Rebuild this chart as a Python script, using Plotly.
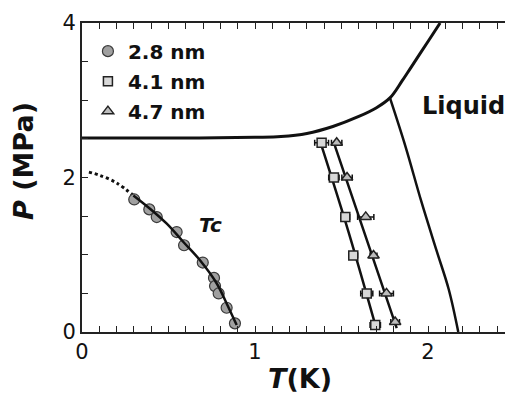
import plotly.graph_objects as go

# ---- data ----
# 2.8 nm (circles)
t_28 = [0.302, 0.389, 0.432, 0.547, 0.590, 0.698, 0.763, 0.769, 0.790, 0.836, 0.884]
p_28 = [1.716, 1.587, 1.488, 1.294, 1.123, 0.899, 0.700, 0.594, 0.499, 0.314, 0.112]

# 4.1 nm (squares)
t_41 = [1.385, 1.456, 1.522, 1.568, 1.646, 1.695]
p_41 = [2.45, 2.00, 1.49, 0.99, 0.50, 0.09]
e_41 = [0.040, 0.030, 0.025, 0.025, 0.035, 0.030]

# 4.7 nm (triangles)
t_47 = [1.472, 1.532, 1.640, 1.685, 1.760, 1.810]
p_47 = [2.45, 2.00, 1.49, 0.99, 0.50, 0.13]
e_47 = [0.030, 0.030, 0.047, 0.020, 0.040, 0.025]

# Tc curve (solid part through circles)
tc_t = [0.297, 0.393, 0.490, 0.586, 0.682, 0.779, 0.836, 0.894]
tc_p = [1.768, 1.596, 1.402, 1.165, 0.929, 0.628, 0.370, 0.090]
# Tc extrapolation (dotted)
tcx_t = [0.04, 0.10, 0.20, 0.297]
tcx_p = [2.07, 2.03, 1.93, 1.768]

# solid-liquid boundary (upper curve)
sl_t = [0.0, 0.5, 1.0, 1.15, 1.3, 1.45, 1.6, 1.7, 1.78, 1.85, 1.9, 2.0, 2.07]
sl_p = [2.51, 2.51, 2.52, 2.53, 2.57, 2.66, 2.79, 2.90, 3.03, 3.25, 3.42, 3.76, 4.0]

# steep line from the kink down to P = 0
lam_t = [1.78, 1.87, 1.96, 2.05, 2.12, 2.175]
lam_p = [3.03, 2.40, 1.70, 1.05, 0.55, 0.0]

# fit lines through squares and triangles
f41_t = [1.385, 1.540, 1.703]
f41_p = [2.41, 1.30, 0.03]
f47_t = [1.462, 1.630, 1.819]
f47_p = [2.41, 1.30, 0.05]

labels = ["2.8 nm", "4.1 nm", "4.7 nm"]

# ticks (every 0.1 K on T, every 0.5 MPa on P; labels only on a few)
x_tick_vals = [0.0, 0.1, 0.2, 0.3, 0.4, 0.5, 0.6, 0.7, 0.8, 0.9, 1.0, 1.1, 1.2,
               1.3, 1.4, 1.5, 1.6, 1.7, 1.8, 1.9, 2.0, 2.1, 2.2, 2.3, 2.4]
x_tick_text = ["0", "", "", "", "", "", "", "", "", "", "1", "", "",
               "", "", "", "", "", "", "", "2", "", "", "", ""]
y_tick_vals = [0.0, 0.5, 1.0, 1.5, 2.0, 2.5, 3.0, 3.5, 4.0]
y_tick_text = ["0", "", "", "", "2", "", "", "", "4"]

FONT = "'DejaVu Sans', Arial, sans-serif"
BLACK = "#111111"
AX = "#222222"

fig = go.Figure()

fig.add_trace(go.Scatter(x=sl_t, y=sl_p, mode="lines", line=dict(color=BLACK, width=3),
                         showlegend=False, hoverinfo="skip", line_shape="spline"))
fig.add_trace(go.Scatter(x=lam_t, y=lam_p, mode="lines", line=dict(color=BLACK, width=2.5),
                         showlegend=False, hoverinfo="skip", line_shape="spline"))
fig.add_trace(go.Scatter(x=tcx_t, y=tcx_p, mode="lines",
                         line=dict(color=BLACK, width=3, dash="dot"),
                         showlegend=False, hoverinfo="skip", line_shape="spline"))
fig.add_trace(go.Scatter(x=f41_t, y=f41_p, mode="lines", line=dict(color=BLACK, width=2.5),
                         showlegend=False, hoverinfo="skip", line_shape="spline"))
fig.add_trace(go.Scatter(x=f47_t, y=f47_p, mode="lines", line=dict(color=BLACK, width=2.5),
                         showlegend=False, hoverinfo="skip", line_shape="spline"))

fig.add_trace(go.Scatter(x=t_28, y=p_28, mode="markers", name="<b>%s</b>" % labels[0],
                         legendgroup="a",
                         marker=dict(symbol="circle", size=11, color="#a0a0a0",
                                     line=dict(color="#3a3a3a", width=1.2))))
fig.add_trace(go.Scatter(x=t_41, y=p_41, mode="markers", name="<b>%s</b>" % labels[1],
                         legendgroup="b",
                         marker=dict(symbol="square", size=9, color="#d8d8d8",
                                     line=dict(color="#222222", width=1.5)),
                         error_x=dict(type="data", array=e_41, color=BLACK,
                                      thickness=1.5, width=3)))
fig.add_trace(go.Scatter(x=t_47, y=p_47, mode="markers", name="<b>%s</b>" % labels[2],
                         legendgroup="c",
                         marker=dict(symbol="triangle-up", size=10, color="#bdbdbd",
                                     line=dict(color="#222222", width=1.5)),
                         error_x=dict(type="data", array=e_47, color=BLACK,
                                      thickness=1.5, width=3)))
fig.add_trace(go.Scatter(x=tc_t, y=tc_p, mode="lines", line=dict(color=BLACK, width=2.5),
                         showlegend=False, hoverinfo="skip", line_shape="spline"))

fig.add_annotation(x=0.74, y=1.38, text="<b><i>Tc</i></b>", showarrow=False,
                   font=dict(family=FONT, size=20, color=BLACK))
fig.add_annotation(x=1.955, y=2.92, text="<b>Liquid</b>", showarrow=False,
                   xanchor="left", yanchor="middle", font=dict(family=FONT, size=24, color=BLACK))

# axis titles as annotations for exact placement
fig.add_annotation(xref="paper", yref="paper", x=-0.137, y=0.356, xanchor="center",
                   yanchor="bottom", textangle=-90, showarrow=False,
                   text="<b><i>P</i> (MPa)</b>", font=dict(family=FONT, size=27, color=BLACK))
fig.add_annotation(xref="paper", yref="paper", x=0.5165, y=-0.152, xanchor="center",
                   yanchor="middle", showarrow=False,
                   text="<b><i>T</i>(K)</b>", font=dict(family=FONT, size=27, color=BLACK))

fig.update_xaxes(
    range=[0, 2.445], tickmode="array", tickvals=x_tick_vals, ticktext=x_tick_text,
    showline=True, linecolor=AX, linewidth=2, mirror="ticks",
    ticks="inside", ticklen=6, tickwidth=1, tickcolor=AX, layer="above traces",
    showgrid=False, zeroline=False, automargin=False,
    tickfont=dict(family=FONT, size=21, color=BLACK),
)
fig.update_yaxes(
    range=[0, 4], tickmode="array", tickvals=y_tick_vals, ticktext=y_tick_text,
    showline=True, linecolor=AX, linewidth=2,
    ticks="inside", ticklen=6, tickwidth=1, tickcolor=AX, layer="above traces",
    showgrid=False, zeroline=False, automargin=False,
    tickfont=dict(family=FONT, size=21, color=BLACK),
)

fig.update_layout(
    template="simple_white",
    width=506, height=394,
    margin=dict(l=82, r=1, t=23, b=62),
    paper_bgcolor="white", plot_bgcolor="white",
    showlegend=True,
    legend=dict(x=0.014, y=0.972, xanchor="left", yanchor="top",
                bgcolor="rgba(0,0,0,0)", borderwidth=0,
                font=dict(family=FONT, size=20, color=BLACK),
                tracegroupgap=1, itemsizing="trace"),
    font=dict(family=FONT, color=BLACK),
)

# remove the default 8px page margin so the figure sits at the window's corner
fig.write_html("out.html",
               config={"displayModeBar": False},
               post_script="document.body.style.margin='0';document.body.style.overflow='hidden';")
